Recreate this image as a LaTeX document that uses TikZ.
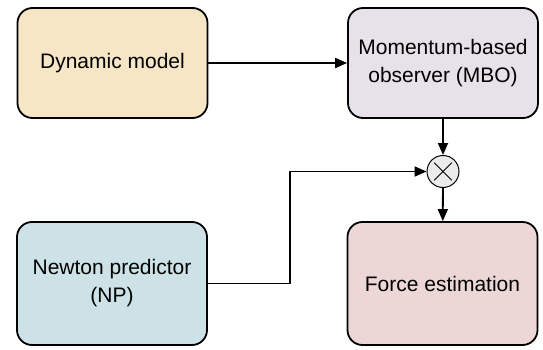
\documentclass[tikz,border=0pt]{standalone}
\usepackage{fontspec}
\setmainfont{Liberation Sans}
\usetikzlibrary{arrows.meta}

\definecolor{modelfill}{HTML}{F6E6C6}
\definecolor{observerfill}{HTML}{E7E1EA}
\definecolor{predictorfill}{HTML}{CDE2E6}
\definecolor{forcefill}{HTML}{EDD6D6}
\definecolor{mixfill}{HTML}{EBEBEB}

\begin{document}
\begin{tikzpicture}[x=1pt, y=-1pt, line width=1.8pt, >={Triangle[length=12pt, width=10pt]},
    block/.style={draw, line width=1.8pt, rounded corners=15pt, minimum width=190pt, align=center, font=\fontsize{21}{28}\selectfont}]

    \useasboundingbox (0,0) rectangle (543,350);

    % Top row
    \node [block, fill=modelfill, minimum height=110pt] (DM) at (112.5,63) {Dynamic model};
    \node [block, fill=observerfill, minimum height=110pt] (MBO) at (443,63) {Momentum-based\\observer (MBO)};

    % Bottom row
    \node [block, fill=predictorfill, minimum height=123pt] (NP) at (112,283.5) {Newton predictor\\(NP)};
    \node [block, fill=forcefill, minimum height=123pt] (FE) at (442.5,283.5) {Force estimation};

    % Product junction
    \node [draw, circle, fill=mixfill, line width=1pt, minimum size=32pt, inner sep=0pt] (X) at (443,171.5) {};
    \draw [line width=0.9pt, shorten <=4pt, shorten >=4pt] (X.45) -- (X.225);
    \draw [line width=0.9pt, shorten <=4pt, shorten >=4pt] (X.135) -- (X.315);

    \coordinate (bend) at (290,171.5);

    \draw [->] (DM) -- (MBO);
    \draw [->] (MBO) -- (X);
    \draw [->] (X) -- (FE);
    \draw [->] (NP.east) -| (bend) -- (X);

\end{tikzpicture}
\end{document}
